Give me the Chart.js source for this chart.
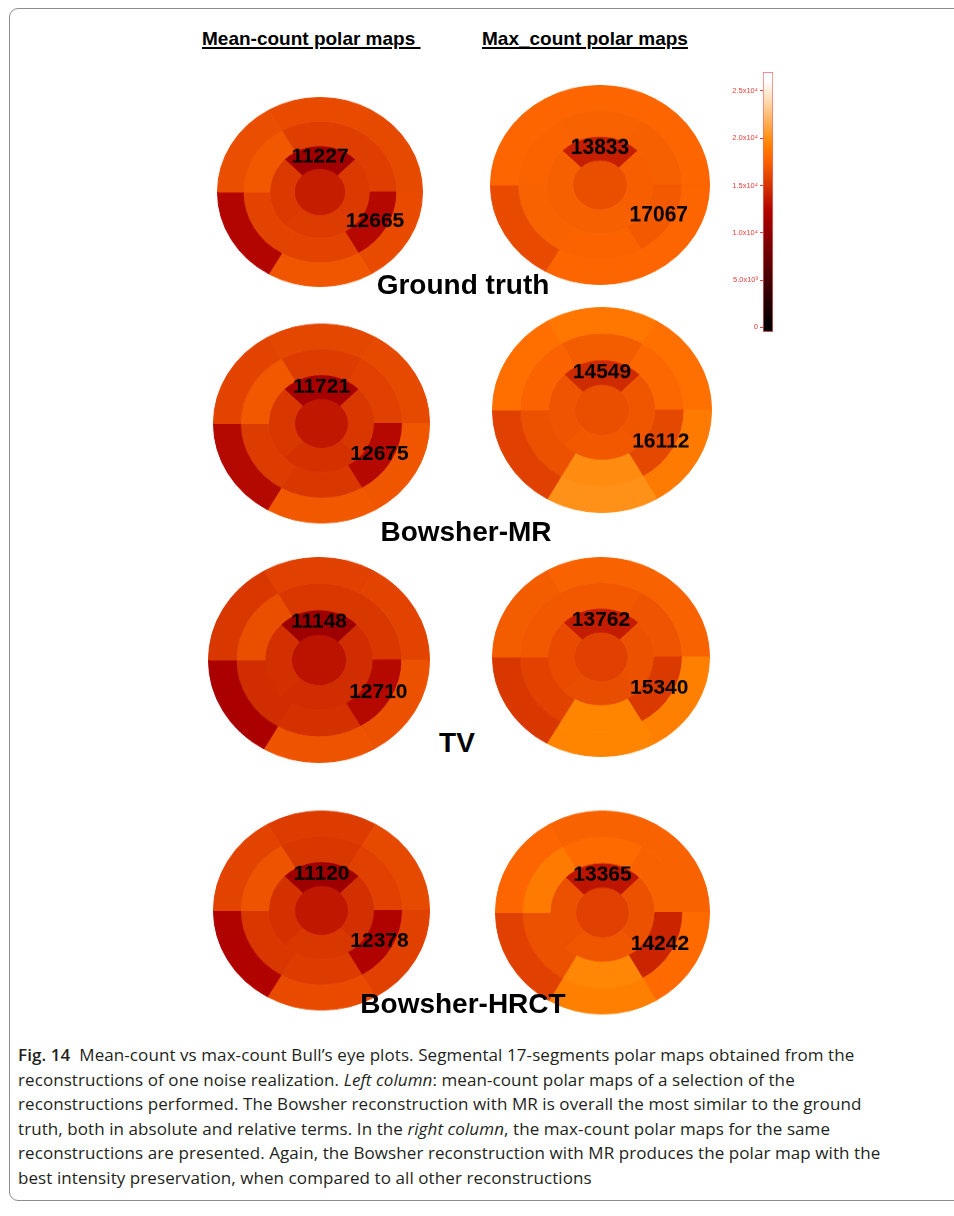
<!DOCTYPE html>
<html>
<head>
<meta charset="utf-8">
<script src="https://cdn.jsdelivr.net/npm/chart.js@4.4.0/dist/chart.umd.min.js"></script>
<style>
  body { margin: 0; background: #fff; width: 954px; height: 1216px; overflow: hidden; position: relative;
         font-family: "Liberation Sans", Arial, sans-serif; color: #000; }
  .frame { position: absolute; left: 9px; top: 8px; width: 990px; height: 1193px; border: 1px solid #8c8c8c;
           border-radius: 9px; box-sizing: border-box; }
  .head { position: absolute; top: 29px; font-weight: bold; font-size: 19px; line-height: 19px;
          text-decoration: underline; text-underline-offset: 2px; text-decoration-thickness: 2px; white-space: pre; }
  .title { position: absolute; z-index: 5; font-weight: bold; font-size: 28px; line-height: 28px; white-space: nowrap;
           transform: translateX(-50%); }
  .map { position: absolute; z-index: 1; }
  .caption { position: absolute; left: 18px; top: 1043px; font-family: "Open Sans", sans-serif; font-size: 17px;
             letter-spacing: 0.08px; line-height: 24.6px; white-space: nowrap; color: #231f20; }
  .caption b { font-weight: 600; }
</style>
</head>
<body>
<div class="frame"></div>
<div class="head" style="left:202px">Mean-count polar maps </div>
<div class="head" style="left:482px">Max_count polar maps</div>

<div class="title" style="left:463px;top:271px">Ground truth</div>
<div class="title" style="left:466px;top:518px">Bowsher-MR</div>
<div class="title" style="left:457px;top:729px">TV</div>
<div class="title" style="left:463px;top:990px">Bowsher-HRCT</div>

<canvas id="colorbar" width="60" height="285" style="position:absolute;left:720px;top:60px"></canvas>

<div class="caption"><b>Fig. 14</b>&nbsp; Mean-count vs max-count Bull’s eye plots. Segmental 17-segments polar maps obtained from the<br>reconstructions of one noise realization. <i>Left column</i>: mean-count polar maps of a selection of the<br>reconstructions performed. The Bowsher reconstruction with MR is overall the most similar to the ground<br>truth, both in absolute and relative terms. In the <i>right column</i>, the max-count polar maps for the same<br>reconstructions are presented. Again, the Bowsher reconstruction with MR produces the polar map with the<br>best intensity preservation, when compared to all other reconstructions</div>

<script>
// reconstructions, top to bottom
const methods = ["Ground truth", "Bowsher-MR", "TV", "Bowsher-HRCT"];

// segment values (basal/mid: top, upper-right, lower-right, bottom, lower-left, upper-left)
const meanBasal = [
  [16300, 16200, 16300, 16900, 12500, 16450],
  [16050, 16200, 16900, 17000, 12700, 15900],
  [15760, 15900, 16600, 16750, 12000, 15200],
  [15500, 16200, 15760, 16300, 12400, 15900]
];
const meanMid = [
  [15600, 15600, 12665, 15900, 15900, 17000],
  [15500, 15760, 12675, 15200, 15500, 17000],
  [15200, 15200, 12710, 14900, 14650, 16500],
  [15200, 15760, 12378, 15500, 15200, 16750]
];
// apical: top, right, bottom, left
const meanApical = [
  [11227, 15340, 15480, 15340],
  [11721, 15200, 14900, 15200],
  [11148, 14650, 14650, 14800],
  [11120, 14800, 15200, 14900]
];
const meanApex = [13800, 13500, 13250, 13500];

const maxBasal = [
  [17700, 17700, 17700, 17700, 16300, 17700],
  [18600, 18300, 18800, 20000, 15760, 18200],
  [17500, 17500, 19150, 19400, 15200, 17200],
  [17500, 17500, 17900, 19150, 15760, 17700]
];
const maxMid = [
  [17500, 17400, 17067, 17600, 17500, 17600],
  [17200, 17800, 16112, 19800, 16600, 17600],
  [17000, 16800, 15340, 19400, 15800, 17000],
  [17900, 17500, 14242, 19500, 16600, 18800]
];
const maxApical = [
  [13833, 17300, 17400, 17400],
  [14549, 16900, 17000, 16800],
  [13762, 16600, 16400, 16300],
  [13365, 16600, 16900, 16600]
];
const maxApex = [16500, 16500, 15760, 15760];

// colour bar
const cbTicks = [0, 5000, 10000, 15000, 20000, 25000];
const cbLabels = ["0", "5.0x10³", "1.0x10⁴", "1.5x10⁴", "2.0x10⁴", "2.5x10⁴"];
const cbRange = [-500, 27000];

// where each map sits on the page (centre, half width, half height)
const meanBoxes = [
  { cx: 320, cy: 192, a: 103, b: 95 },
  { cx: 321.5, cy: 423, a: 108.5, b: 100 },
  { cx: 319, cy: 660, a: 111, b: 103 },
  { cx: 321.5, cy: 910, a: 108.5, b: 100 }
];
const maxBoxes = [
  { cx: 600, cy: 185, a: 110, b: 100 },
  { cx: 602, cy: 410, a: 110, b: 103 },
  { cx: 601, cy: 657, a: 109, b: 100 },
  { cx: 602.5, cy: 912, a: 107.5, b: 102 }
];

const CMAP_MAX = 26000;
// IDL-like "red temperature" colour table
function heat(v) {
  const i = Math.max(0, Math.min(255, v / CMAP_MAX * 255));
  const r = Math.min(255, i * 255 / 176);
  const g = Math.max(0, Math.min(255, (i - 120) * 255 / 135));
  const b = Math.max(0, Math.min(255, (i - 190) * 255 / 65));
  return `rgb(${Math.round(r)},${Math.round(g)},${Math.round(b)})`;
}

const valueLabels = {
  id: "valueLabels",
  afterDatasetsDraw(chart, args, opts) {
    const ctx = chart.ctx;
    ctx.save();
    ctx.font = 'bold 21px "Liberation Sans", Arial, sans-serif';
    ctx.fillStyle = "#000";
    ctx.textAlign = "center";
    ctx.textBaseline = "middle";
    opts.marks.forEach(([ds, idx]) => {
      const p = chart.getDatasetMeta(ds).data[idx].tooltipPosition();
      const v = chart.data.datasets[ds].vals[idx];
      ctx.save();
      ctx.translate(p.x, p.y);
      ctx.scale(1, opts.stretch);
      ctx.fillText(String(v), 0, 0);
      ctx.restore();
    });
    ctx.restore();
  }
};

function ring(vals, weight, rotation) {
  const cols = vals.map(heat);
  return { data: vals.map(() => 1), vals, backgroundColor: cols, borderColor: cols, borderWidth: 1,
           weight, rotation };
}

function drawMap(basal, mid, apical, apex, box) {
  const wrap = document.createElement("div");
  wrap.className = "map";
  const size = box.a * 2;
  wrap.style.cssText = `left:${box.cx - box.a}px;top:${box.cy - box.a}px;width:${size}px;height:${size}px;` +
    `transform:scaleY(${box.b / box.a});transform-origin:50% 50%`;
  const cv = document.createElement("canvas");
  cv.width = size;
  cv.height = size;
  wrap.appendChild(cv);
  document.body.appendChild(wrap);

  new Chart(cv, {
    type: "doughnut",
    data: {
      datasets: [
        ring(basal, 0.25, -30),
        ring(mid, 0.26, -30),
        ring(apical, 0.24, -45),
        ring([apex], 0.25, 0)
      ]
    },
    options: {
      responsive: false,
      animation: false,
      cutout: 0,
      layout: { padding: 0 },
      plugins: {
        legend: { display: false },
        tooltip: { enabled: false },
        valueLabels: { marks: [[2, 0], [1, 2]], stretch: box.a / box.b }
      }
    },
    plugins: [valueLabels]
  });
}

methods.forEach((m, k) => {
  drawMap(meanBasal[k], meanMid[k], meanApical[k], meanApex[k], meanBoxes[k]);
  drawMap(maxBasal[k], maxMid[k], maxApical[k], maxApex[k], maxBoxes[k]);
});

new Chart(document.getElementById("colorbar"), {
  type: "bar",
  data: {
    labels: [""],
    datasets: [{
      data: [cbRange],
      backgroundColor(c) {
        const chart = c.chart;
        if (!chart.chartArea) return "#000";
        const ys = chart.scales.y;
        const y0 = ys.getPixelForValue(0), y1 = ys.getPixelForValue(cbRange[1]);
        const g = chart.ctx.createLinearGradient(0, y0, 0, y1);
        for (let k = 0; k <= 30; k++) g.addColorStop(k / 30, heat(cbRange[1] * k / 30));
        return g;
      },
      borderColor: "#f26b6b",
      borderWidth: 1,
      borderSkipped: false,
      barPercentage: 1,
      categoryPercentage: 1
    }]
  },
  options: {
    responsive: false,
    animation: false,
    layout: { padding: { top: 12, bottom: 13, right: 7, left: 0 } },
    plugins: { legend: { display: false }, tooltip: { enabled: false } },
    scales: {
      x: { display: false },
      y: {
        min: cbRange[0],
        max: cbRange[1],
        afterBuildTicks(ax) { ax.ticks = cbTicks.map(v => ({ value: v })); },
        afterFit(ax) { ax.width = 43; },
        ticks: {
          color: "#e8413c",
          font: { size: 7.5, family: '"Liberation Sans", Arial, sans-serif' },
          padding: 2,
          callback(v) { return cbLabels[cbTicks.indexOf(v)]; }
        },
        grid: { drawOnChartArea: false, color: "#e8413c", tickLength: 3 },
        border: { display: false }
      }
    }
  }
});
</script>
</body>
</html>
